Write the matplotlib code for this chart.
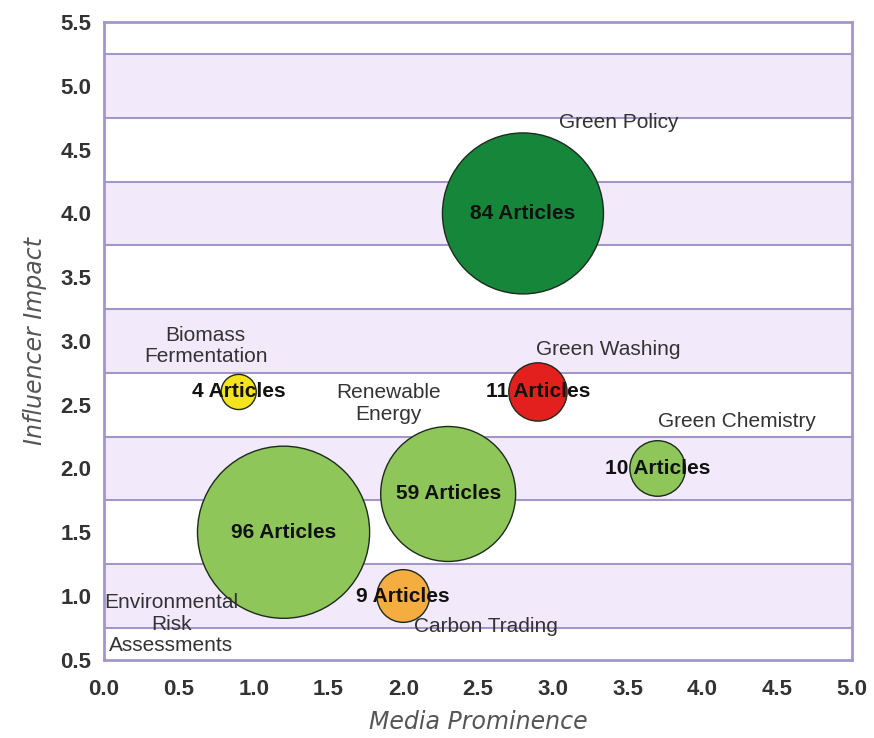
import matplotlib.pyplot as plt

plt.rcParams['font.family'] = ['Liberation Sans', 'DejaVu Sans']

# topic bubbles: media prominence (x), influencer impact (y), article count
topics = ["Green Policy", "Green Washing", "Biomass\nFermentation", "Green Chemistry",
          "Renewable\nEnergy", "Environmental\nRisk\nAssessments", "Carbon Trading"]
prominence = [2.8, 2.9, 0.9, 3.7, 2.3, 1.2, 2.0]
impact = [4.0, 2.6, 2.6, 2.0, 1.8, 1.5, 1.0]
articles = [84, 11, 4, 10, 59, 96, 9]
colors = ['#16873a', '#e3201d', '#f4e41e', '#8fc65a', '#8fc65a', '#8fc65a', '#f5ad3f']

# where each topic name sits
label_x = [3.44, 3.37, 0.68, 4.23, 1.9, 0.45, 2.55]
label_y = [4.71, 2.93, 2.96, 2.37, 2.51, 0.78, 0.76]

xticks = [0.0, 0.5, 1.0, 1.5, 2.0, 2.5, 3.0, 3.5, 4.0, 4.5, 5.0]
yticks = [0.5, 1.0, 1.5, 2.0, 2.5, 3.0, 3.5, 4.0, 4.5, 5.0, 5.5]

line_col = '#a397c8'
band_col = '#f2e9fb'

fig = plt.figure(figsize=(8.74, 7.38), dpi=100)
ax = fig.add_axes([0.119, 0.106, 0.856, 0.864])

# alternating lavender bands and rule lines
for lo in [0.75, 1.75, 2.75, 3.75, 4.75]:
    ax.axhspan(lo, lo + 0.5, color=band_col, zorder=0, lw=0)
for y in [0.75, 1.25, 1.75, 2.25, 2.75, 3.25, 3.75, 4.25, 4.75, 5.25]:
    ax.axhline(y, color=line_col, lw=1.5, zorder=1)

ax.scatter(prominence, impact, s=[160 * n for n in articles], c=colors,
           edgecolors='#1d2a1d', linewidths=1.0, zorder=3)

for x, y, n in zip(prominence, impact, articles):
    ax.text(x, y, f"{n} Articles", ha='center', va='center', fontsize=15,
            fontweight='bold', color='#111111', zorder=5)

for name, x, y in zip(topics, label_x, label_y):
    ax.text(x, y, name, ha='center', va='center', fontsize=15,
            color='#333333', linespacing=1.15, zorder=4)

ax.set_xlim(0, 5)
ax.set_ylim(0.5, 5.5)
ax.set_xticks(xticks)
ax.set_yticks(yticks)
ax.set_xticklabels([f"{v:.1f}" for v in xticks])
ax.set_yticklabels([f"{v:.1f}" for v in yticks])
ax.tick_params(length=0, labelsize=16, labelcolor='#333333')
ax.tick_params(axis='x', pad=14)
ax.tick_params(axis='y', pad=9)
for lab in ax.get_xticklabels() + ax.get_yticklabels():
    lab.set_fontweight('bold')

for sp in ax.spines.values():
    sp.set_color(line_col)
    sp.set_linewidth(2)

ax.set_xlabel("Media Prominence", fontsize=17, style='italic', color='#555555',
              family='DejaVu Sans', labelpad=7)
ax.set_ylabel("Influencer Impact", fontsize=17, style='italic', color='#555555',
              family='DejaVu Sans', labelpad=10)

fig.savefig('out.png', dpi=100, facecolor='white')
